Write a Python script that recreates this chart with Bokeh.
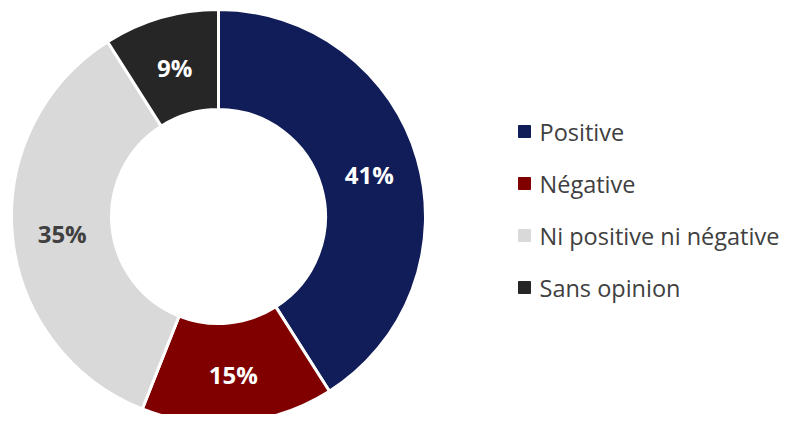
import math
from bokeh.plotting import figure
from bokeh.models import ColumnDataSource
from bokeh.core.properties import value
from bokeh.embed import file_html
from bokeh.resources import INLINE

categories = ["Positive", "Négative", "Ni positive ni négative", "Sans opinion"]
values = [41, 15, 35, 9]
colors = ["#111D58", "#800000", "#D9D9D9", "#262626"]
label_colors = ["white", "white", "#404040", "white"]

W, H = 784, 414
cx, cy = 218, 198
R_out, R_in = 207, 107

total = sum(values)
starts, ends, lx, ly, labels = [], [], [], [], []
acc = 0
for v in values:
    a0 = math.pi / 2 - 2 * math.pi * acc / total
    a1 = math.pi / 2 - 2 * math.pi * (acc + v) / total
    starts.append(a0)
    ends.append(a1)
    mid = (a0 + a1) / 2
    rm = (R_out + R_in) / 2
    lx.append(cx + rm * math.cos(mid))
    ly.append(cy + rm * math.sin(mid) - 2)
    labels.append(f"{v}%")
    acc += v

src = ColumnDataSource(dict(start=starts, end=ends, color=colors, lx=lx, ly=ly,
                            label=labels, lc=label_colors, cat=categories))

p = figure(width=W, height=H, x_range=(0, W), y_range=(0, H),
           output_backend="svg", toolbar_location=None, min_border=0)
p.axis.visible = False
p.grid.visible = False
p.outline_line_color = None
p.background_fill_color = "white"

p.annular_wedge(x=cx, y=cy, inner_radius=R_in, outer_radius=R_out,
                start_angle="start", end_angle="end", direction="clock",
                fill_color="color", line_color="white", line_width=3, source=src)

p.text(x="lx", y="ly", text="label", text_color="lc", text_align="center",
       text_baseline="middle", text_font=value("Open Sans"), text_font_style="bold",
       text_font_size="24px", source=src)

# legend
leg_x = 524
leg_y0 = H - 131
step = 52
gx = [leg_x] * len(categories)
gy = [leg_y0 - i * step for i in range(len(categories))]
lsrc = ColumnDataSource(dict(x=gx, y=gy, tx=[leg_x + 15] * len(categories),
                             cat=categories, color=colors))
p.scatter(x="x", y="y", marker="square", size=12, fill_color="color",
          line_color="color", source=lsrc)
p.text(x="tx", y="y", text="cat", text_color="#404040", text_align="left",
       text_baseline="middle", text_font=value("Open Sans"), text_font_size="23.5px",
       source=lsrc)

open("out.html", "w").write(file_html(p, INLINE))
